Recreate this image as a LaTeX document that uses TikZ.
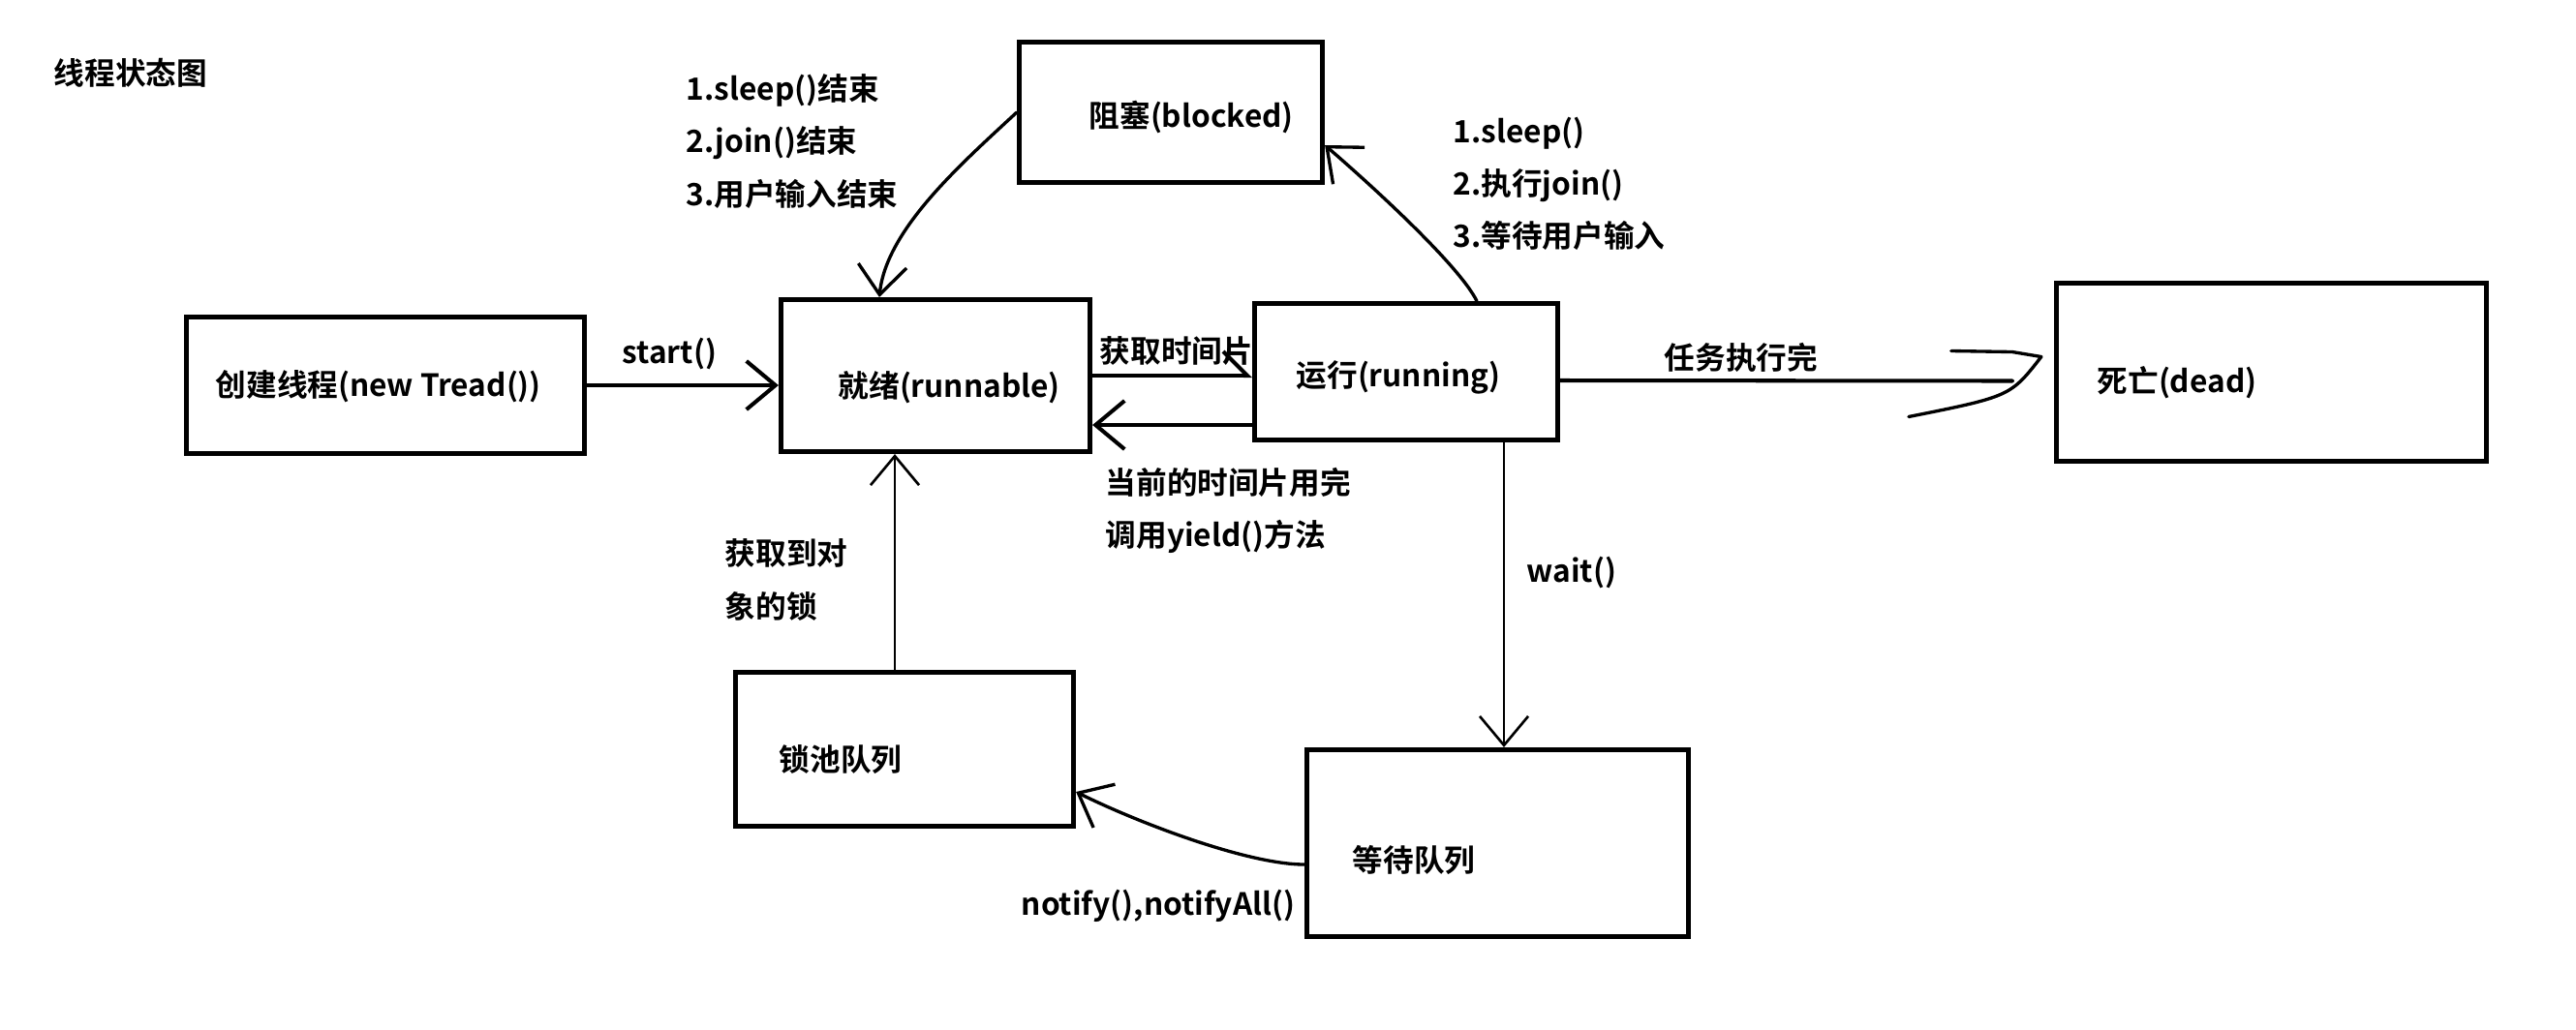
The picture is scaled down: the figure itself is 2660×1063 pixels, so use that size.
\documentclass[tikz,border=0pt]{standalone}
\usepackage{fontspec}
\setmainfont{Noto Sans CJK SC}[BoldFont={Noto Sans CJK SC Bold}]
\usetikzlibrary{positioning,calc,arrows.meta}
\tikzset{
  box/.style={draw,line width=1.42pt,inner sep=0pt},
  txt/.style={inner sep=0pt,anchor=west,align=left,font=\fontsize{9}{15.4}\selectfont\bfseries},
  arr/.style={-{Straight Barb[length=0.3cm,width=0.5cm]}},
  halfarr/.style={-{Straight Barb[left,length=0.25cm,width=0.5cm]}},
  heavy/.style={line width=1.15pt,line cap=round,line join=round},
  curve/.style={line width=0.95pt,line cap=round,line join=round},
  slim/.style={line width=0.75pt}
}

\begin{document}
\begin{tikzpicture}[x=0.01cm,y=-0.01cm]
  \useasboundingbox (0,0) rectangle (2660,1063);
  \node[txt] (title) at (55,75) {线程状态图};

  \node[box,minimum width=4.11cm,minimum height=1.41cm] (new) at (398,398) {};
  \node[box,minimum width=3.19cm,minimum height=1.57cm] (ready) at (966,388) {};
  \node[box,minimum width=3.13cm,minimum height=1.45cm] (blocked) at (1209,116) {};
  \node[box,minimum width=3.13cm,minimum height=1.41cm] (running) at (1452,384) {};
  \node[box,minimum width=4.44cm,minimum height=1.84cm] (dead) at (2345.5,384.5) {};
  \node[box,minimum width=3.49cm,minimum height=1.59cm] (lockpool) at (934,774) {};
  \node[box,minimum width=3.94cm,minimum height=1.93cm] (waitq) at (1546.5,871) {};

  \node[txt] (newtxt) at (222,399) {创建线程(new Tread())};
  \node[txt] (readytxt) at (865,400) {就绪(runnable)};
  \node[txt] (blockedtxt) at (1124,121) {阻塞(blocked)};
  \node[txt] (runningtxt) at (1338,390) {运行(running)};
  \node[txt] (deadtxt) at (2165,395) {死亡(dead)};
  \node[txt] (locktxt) at (804,785) {锁池队列};
  \node[txt] (waittxt) at (1396,888) {等待队列};

  \node[txt] (startlbl) at (642,366) {start()};
  \node[txt] (wakelbl) at (708,146) {1.sleep()结束\\2.join()结束\\3.用户输入结束};
  \node[txt] (blocklbl) at (1500,190) {1.sleep()\\2.执行join()\\3.等待用户输入};
  \node[txt] (slicelbl) at (1135,363) {获取时间片};
  \node[txt] (yieldlbl) at (1141,527) {当前的时间片用完\\调用yield()方法};
  \node[txt] (gotlbl) at (748,599) {获取到对\\象的锁};
  \node[txt] (notifylbl) at (1054,936) {notify(),notifyAll()};
  \node[txt] (donelbl) at (1718,369) {任务执行完};
  \node[txt] (waitlbl) at (1576,591) {wait()};

  \draw[heavy,arr] (new.east) -- (new.east -| ready.west);
  \draw[heavy,halfarr] (ready.east) -- (ready.east -| running.west);
  \draw[heavy,arr] ($(running.west)+(0,55)$) -- ($(ready.east)+(0,51)$);
  \draw[curve,arr] (blocked.west) .. controls +(-57,53) and +(7,-70) .. ($(ready.north)+(-58,0)$);
  \draw[curve,arr] ($(running.north)+(73,0)$) .. controls +(-20,-40) and +(35,30) .. ($(blocked.east)+(0,34)$);
  \draw[heavy] ($(running.east)+(0,9)$) -- ($(dead.west)+(-43,9)$);
  \draw[curve] ($(dead.west)+(-106,-22)$) -- ($(dead.west)+(-43,-21)$) -- ($(dead.west)+(-13,-16)$)
    .. controls ($(dead.west)+(-45,25)$) .. ($(dead.west)+(-150,46)$);
  \coordinate (w1) at ($(running.south)+(101,0)$);
  \draw[slim,arr] (w1) -- (w1 |- waitq.north);
  \coordinate (l1) at ($(lockpool.north)+(-10,0)$);
  \draw[slim,arr] (l1) -- (l1 |- ready.south);
  \draw[curve,arr] ($(waitq.west)+(0,22)$) .. controls +(-60,0) and +(60,30) .. ($(lockpool.east)+(0,44)$);
\end{tikzpicture}
\end{document}
